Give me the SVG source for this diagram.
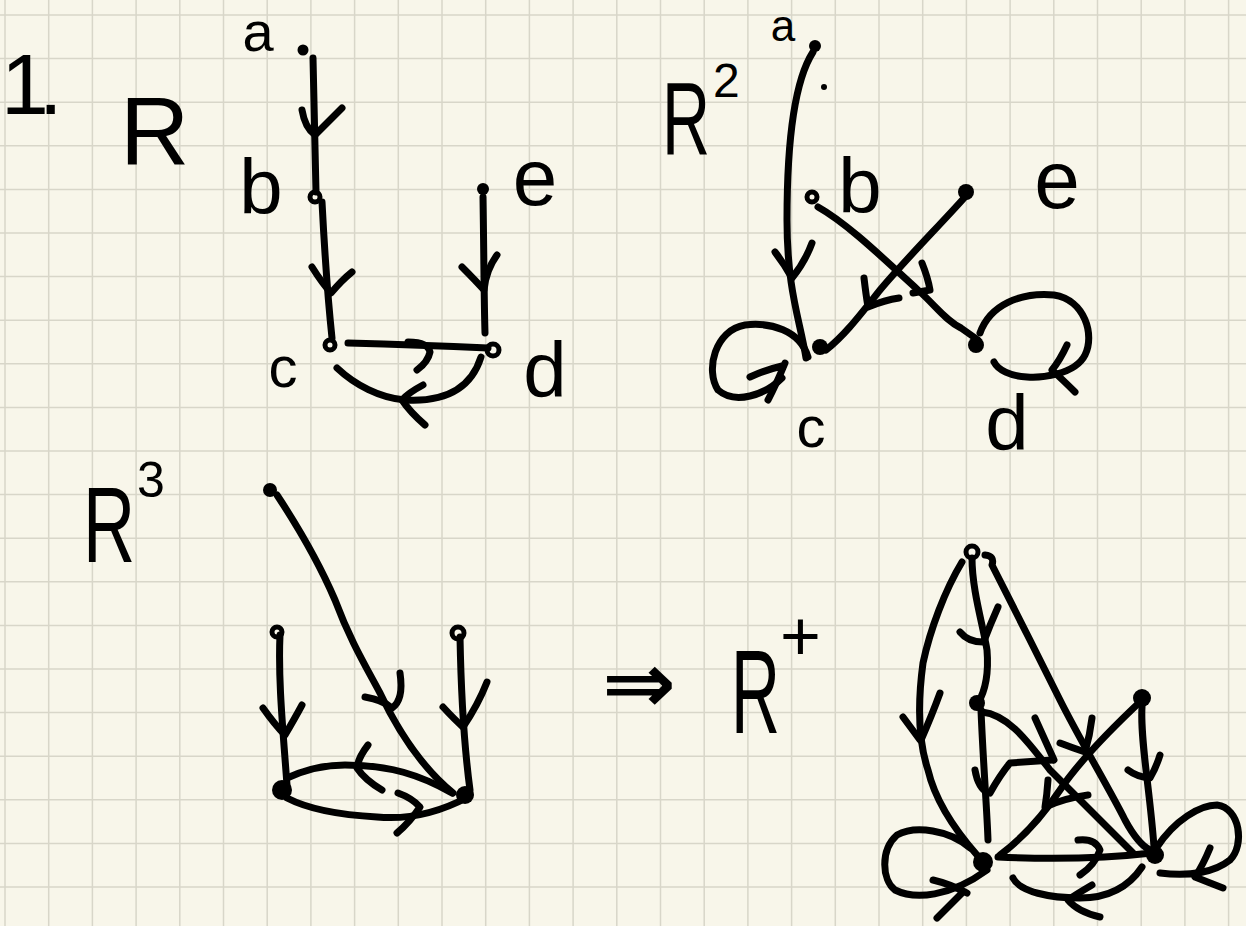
<svg xmlns="http://www.w3.org/2000/svg" width="1246" height="926" viewBox="0 0 1246 926">
<style>
.bg{fill:#f8f6ea}
.grid{stroke:#d8d6c9;stroke-width:1.5;fill:none}
.ink{stroke:#000;stroke-width:7;fill:none;stroke-linecap:round;stroke-linejoin:round}
.dot{fill:#000}
.ring{fill:none;stroke:#000;stroke-width:5}
text{font-family:"Liberation Sans","DejaVu Sans",sans-serif;fill:#000}
.lbl{text-anchor:middle}
</style>
<rect class="bg" x="0" y="0" width="1246" height="926"/>
<path class="grid" d="M5,0V926M48.7,0V926M92.4,0V926M136.1,0V926M179.8,0V926M223.5,0V926M267.2,0V926M310.9,0V926M354.6,0V926M398.3,0V926M442,0V926M485.7,0V926M529.4,0V926M573.1,0V926M616.8,0V926M660.5,0V926M704.2,0V926M747.9,0V926M791.6,0V926M835.3,0V926M879,0V926M922.7,0V926M966.4,0V926M1010.1,0V926M1053.8,0V926M1097.5,0V926M1141.2,0V926M1184.9,0V926M1228.6,0V926
M0,15H1246M0,58.6H1246M0,102.2H1246M0,145.8H1246M0,189.4H1246M0,233H1246M0,276.6H1246M0,320.2H1246M0,363.8H1246M0,407.4H1246M0,451H1246M0,494.6H1246M0,538.2H1246M0,581.8H1246M0,625.4H1246M0,669H1246M0,712.6H1246M0,756.2H1246M0,799.8H1246M0,843.4H1246M0,887H1246"/>

<g id="titles">
  <text x="1" y="114" font-size="86" letter-spacing="-10">1.</text>
  <text x="120" y="165" font-size="96">R</text>
  <text transform="matrix(0.64 0 0 1 662 155)" font-size="104">R</text>
  <text x="713" y="97" font-size="48">2</text>
  <text transform="matrix(0.675 0 0 1 83 562)" font-size="107">R</text>
  <text x="137" y="497" font-size="50">3</text>
  <text x="602" y="712" font-size="84" font-family="DejaVu Sans, sans-serif" font-weight="bold" textLength="74" lengthAdjust="spacingAndGlyphs">⇒</text>
  <text transform="matrix(0.575 0 0 1 731 733)" font-size="118">R</text>
  <text x="780" y="660" font-size="70">+</text>
</g>

<!-- R -->
<g id="R1-a"><circle class="dot" cx="303" cy="50" r="5.5"/><text class="lbl" x="258" y="51" font-size="56">a</text></g>
<g id="R1-b"><circle class="ring" cx="315" cy="197" r="5"/><text class="lbl" x="261" y="214" font-size="78">b</text></g>
<g id="R1-c"><circle class="ring" cx="330" cy="345" r="5"/><text class="lbl" x="283" y="387" font-size="58">c</text></g>
<g id="R1-d"><circle class="ring" cx="493" cy="350" r="6"/><text class="lbl" x="545" y="397" font-size="78">d</text></g>
<g id="R1-e"><circle class="dot" cx="483" cy="189" r="6"/><text class="lbl" x="535" y="205" font-size="80">e</text></g>

<!-- R2 -->
<g id="R2-a"><circle class="dot" cx="815" cy="46" r="6"/><text class="lbl" x="783" y="41" font-size="44">a</text><circle class="dot" cx="824" cy="87" r="3"/></g>
<g id="R2-b"><circle class="ring" cx="812" cy="197" r="5"/><text class="lbl" x="860" y="213" font-size="78">b</text></g>
<g id="R2-c"><circle class="dot" cx="820" cy="347" r="8"/><text class="lbl" x="811" y="447" font-size="58">c</text></g>
<g id="R2-d"><circle class="dot" cx="976" cy="345" r="8"/><text class="lbl" x="1007" y="450" font-size="78">d</text></g>
<g id="R2-e"><circle class="dot" cx="966" cy="192" r="8"/><text class="lbl" x="1057" y="208" font-size="82">e</text></g>

<!-- R3 -->
<g id="R3-a"><circle class="dot" cx="270" cy="490" r="7"/></g>
<g id="R3-b"><circle class="ring" cx="277" cy="632" r="5"/></g>
<g id="R3-e"><circle class="ring" cx="458" cy="633" r="6"/></g>
<g id="R3-c"><circle class="dot" cx="282" cy="790" r="10"/></g>
<g id="R3-d"><circle class="dot" cx="465" cy="795" r="9"/></g>

<!-- R+ -->
<g id="Rp-a"><circle class="ring" cx="972" cy="552" r="6"/></g>
<g id="Rp-b"><circle class="dot" cx="977" cy="703" r="8"/></g>
<g id="Rp-e"><circle class="dot" cx="1142" cy="698" r="9"/></g>
<g id="Rp-c"><circle class="dot" cx="983" cy="862" r="10"/></g>
<g id="Rp-d"><circle class="dot" cx="1155" cy="855" r="9"/></g>

<g id="connectors" class="ink">
  <!-- R -->
  <path d="M313,58 C314,100 315,150 316,192"/>
  <path d="M302,110 Q305,128 315,135 Q330,120 342,108"/>
  <path d="M322,202 C325,260 328,300 332,338"/>
  <path d="M312,267 Q322,283 331,293 Q342,280 352,272"/>
  <path d="M483,197 C484,260 484,300 485,333"/>
  <path d="M462,267 Q475,280 484,290 Q486,270 497,255"/>
  <path d="M348,343 Q420,345 488,348"/>
  <path d="M408,342 Q428,342 430,352 Q428,362 417,370"/>
  <path d="M481,357 C470,392 440,402 405,400 C380,398 355,385 337,368"/>
  <path d="M423,385 Q408,393 402,400 Q410,412 425,425"/>

  <!-- R2 -->
  <path d="M813,52 C795,80 787,140 787,220 C787,290 800,320 806,358"/>
  <path d="M775,252 Q785,265 792,278 Q805,262 812,243"/>
  <path d="M808,357 C800,330 770,322 745,325 C715,330 705,370 718,390 C735,405 765,395 782,378"/>
  <path d="M750,377 Q765,370 782,366 M785,363 Q776,385 768,400"/>
  <path d="M965,197 C940,225 905,260 880,290 C860,315 845,335 826,350"/>
  <path d="M864,278 Q866,295 868,307 Q885,300 899,298"/>
  <path d="M818,207 C850,225 890,265 918,290 C935,305 945,320 961,328 L978,340"/>
  <path d="M922,263 Q928,278 930,290 L913,293"/>
  <path d="M980,333 C990,305 1020,292 1054,295 C1085,300 1095,335 1085,355 C1075,375 1040,378 1027,377 C1010,376 998,370 994,362"/>
  <path d="M1067,345 Q1060,360 1052,370 Q1065,382 1075,392"/>

  <!-- R3 -->
  <path d="M277,495 C300,530 320,565 335,600 C350,640 365,665 380,693 C400,735 425,770 453,793"/>
  <path d="M365,697 Q383,700 392,708 Q404,700 400,673"/>
  <path d="M280,635 C278,680 283,730 287,785"/>
  <path d="M263,708 Q275,725 285,735 Q295,718 302,705"/>
  <path d="M460,637 C461,690 464,745 470,790"/>
  <path d="M443,707 Q455,720 463,727 Q478,705 487,682"/>
  <path d="M452,793 C420,775 390,765 345,765 C320,765 300,772 287,778"/>
  <path d="M368,745 Q358,758 357,768 Q365,780 382,790"/>
  <path d="M287,798 C310,810 340,815 377,817 C410,820 440,812 468,797"/>
  <path d="M398,793 Q412,798 420,807 Q410,822 397,833"/>

  <!-- R+ -->
  <path d="M962,562 C945,590 930,630 923,663 C918,700 918,740 928,770 C935,800 955,830 977,855"/>
  <path d="M903,717 L920,740 M940,693 Q932,715 921,740"/>
  <path d="M972,558 C972,590 983,625 987,650 C989,675 984,693 978,703"/>
  <path d="M960,632 Q968,642 983,642 M998,607 Q990,625 984,641"/>
  <path d="M981,710 C983,760 987,810 988,840"/>
  <path d="M975,770 Q978,788 988,793 M1053,760 L1010,763 Q1000,775 990,793"/>
  <path d="M982,712 C1010,715 1030,745 1050,770 C1080,800 1110,830 1133,853"/>
  <path d="M1035,718 Q1045,740 1054,760"/>
  <path d="M985,555 Q995,556 992,565 C1010,600 1040,660 1060,700 C1080,740 1110,790 1125,820 C1132,833 1140,845 1150,850"/>
  <path d="M1060,743 Q1073,748 1085,752 Q1090,735 1092,718"/>
  <path d="M1142,700 C1110,730 1080,760 1060,790 C1040,820 1020,840 1000,855"/>
  <path d="M1048,780 Q1047,795 1045,807 Q1065,798 1088,795"/>
  <path d="M1142,707 C1140,740 1150,790 1154,847"/>
  <path d="M1128,770 Q1137,777 1150,778 Q1156,768 1160,755"/>
  <path d="M998,857 C1040,859 1100,859 1152,853"/>
  <path d="M1078,840 Q1095,838 1100,850 Q1095,865 1080,875"/>
  <path d="M1142,867 C1130,885 1110,898 1080,898 C1050,898 1020,892 1013,878"/>
  <path d="M1092,885 Q1075,895 1068,900 Q1078,912 1100,917"/>
  <path d="M970,848 C950,830 915,825 897,835 C880,850 882,880 895,890 C915,900 950,897 987,870"/>
  <path d="M933,880 Q950,884 967,893 M937,918 Q950,905 963,892"/>
  <path d="M1157,847 C1175,820 1200,805 1217,805 C1240,808 1245,845 1230,860 C1215,872 1190,877 1160,873"/>
  <path d="M1210,848 Q1203,865 1195,877 Q1210,883 1223,888"/>
</g>
</svg>
